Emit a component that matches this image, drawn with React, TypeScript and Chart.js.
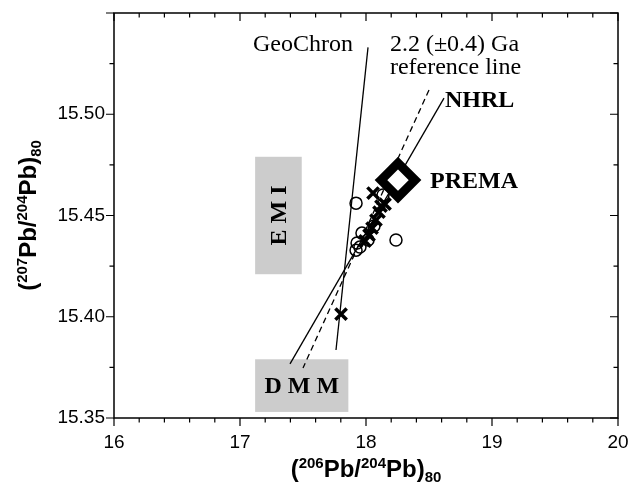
import { useEffect, useRef } from "react";
import { Chart, registerables } from "chart.js";

Chart.register(...registerables);

// ---- axis ticks ----
const xTicks = [16, 17, 18, 19, 20];
const xTickLabels = ["16", "17", "18", "19", "20"];
const yTicks = [15.35, 15.4, 15.45, 15.5, 15.55];
const yTickLabels = ["15.35", "15.40", "15.45", "15.50", ""];
const xMinorTicks = [16.2, 16.4, 16.6, 16.8, 17.2, 17.4, 17.6, 17.8, 18.2, 18.4, 18.6, 18.8, 19.2, 19.4, 19.6, 19.8];
const yMinorTicks = [15.375, 15.425, 15.475, 15.525];

// ---- data: open circles ----
const circleX = [17.921, 18.135, 17.968, 17.929, 17.921, 17.952, 18.016, 18.238, 18.063];
const circleY = [15.4561, 15.4601, 15.4413, 15.4364, 15.4329, 15.4344, 15.4379, 15.4379, 15.4448];

// ---- data: crosses ----
const crossX = [17.802, 18.056, 18.151, 18.103, 18.079, 18.048, 18.024, 17.992, 18.119];
const crossY = [15.4013, 15.4611, 15.4556, 15.4517, 15.4477, 15.4438, 15.4403, 15.4374, 15.4546];

// ---- PREMA ----
const premaX = [18.254];
const premaY = [15.4675];

// ---- reference lines ----
const geochronX = [18.016, 17.762];
const geochronY = [15.533, 15.3836];
const refLineX = [18.5, 17.5];
const refLineY = [15.512, 15.3747];
const nhrlX = [18.619, 17.397];
const nhrlY = [15.508, 15.3767];

// ---- reservoir boxes ----
const emiBoxX = [17.12, 17.49];
const emiBoxY = [15.421, 15.479];
const dmmBoxX = [17.12, 17.86];
const dmmBoxY = [15.353, 15.379];

// ---- annotations ----
const noteTexts = ["GeoChron", "2.2 (±0.4) Ga", "reference line", "NHRL", "PREMA", "E M I", "D M M"];
const noteX = [17.897, 18.19, 18.19, 18.627, 18.508, 17.305, 17.49];
const noteY = [15.5346, 15.5346, 15.5237, 15.507, 15.467, 15.45, 15.366];
const noteAlign = ["right", "left", "left", "left", "left", "center", "center"];
const noteBold = [false, false, false, true, true, true, true];
const noteRotated = [false, false, false, false, false, true, false];

const xTitle = [
  { t: "(", k: "n" }, { t: "206", k: "sup" }, { t: "Pb/", k: "n" },
  { t: "204", k: "sup" }, { t: "Pb)", k: "n" }, { t: "80", k: "sub" },
];
const yTitle = [
  { t: "(", k: "n" }, { t: "207", k: "sup" }, { t: "Pb/", k: "n" },
  { t: "204", k: "sup" }, { t: "Pb)", k: "n" }, { t: "80", k: "sub" },
];

const zip = (xs: number[], ys: number[]) => xs.map((x, i) => ({ x, y: ys[i] }));

function segFont(k: string) {
  return k === "n" ? "bold 24px 'Liberation Sans', Arial, sans-serif" : "bold 15px 'Liberation Sans', Arial, sans-serif";
}
function segDy(k: string) {
  return k === "sup" ? -9 : k === "sub" ? 5 : 0;
}

function drawRich(ctx: CanvasRenderingContext2D, segs: { t: string; k: string }[], cx: number, cy: number, rotated: boolean) {
  let total = 0;
  const widths: number[] = [];
  for (const s of segs) {
    ctx.font = segFont(s.k);
    const w = ctx.measureText(s.t).width;
    widths.push(w);
    total += w;
  }
  ctx.save();
  ctx.translate(cx, cy);
  if (rotated) ctx.rotate(-Math.PI / 2);
  ctx.fillStyle = "#000";
  ctx.textAlign = "left";
  ctx.textBaseline = "alphabetic";
  let pos = -total / 2;
  segs.forEach((s, i) => {
    ctx.font = segFont(s.k);
    ctx.fillText(s.t, pos, segDy(s.k));
    pos += widths[i];
  });
  ctx.restore();
}

const decorPlugin = {
  id: "decor",
  beforeDatasetsDraw(chart: any) {
    const { ctx, scales } = chart;
    const x = scales.x;
    const y = scales.y;
    ctx.save();
    ctx.fillStyle = "#cccccc";
    const boxes = [
      [emiBoxX, emiBoxY],
      [dmmBoxX, dmmBoxY],
    ];
    for (const [bx, by] of boxes) {
      const x0 = x.getPixelForValue(bx[0]);
      const x1 = x.getPixelForValue(bx[1]);
      const y0 = y.getPixelForValue(by[1]);
      const y1 = y.getPixelForValue(by[0]);
      ctx.fillRect(x0, y0, x1 - x0, y1 - y0);
    }
    ctx.restore();
  },
  afterDraw(chart: any) {
    const { ctx, scales, chartArea } = chart;
    const x = scales.x;
    const y = scales.y;
    const { left, right, top, bottom } = chartArea;
    ctx.save();
    ctx.strokeStyle = "#000";
    ctx.lineWidth = 1.5;
    ctx.strokeRect(left, top, right - left, bottom - top);
    ctx.lineWidth = 1.2;
    ctx.beginPath();
    const major = 8;
    const minor = 4.5;
    for (const v of xTicks) {
      const p = x.getPixelForValue(v);
      ctx.moveTo(p, bottom); ctx.lineTo(p, bottom + major);
      ctx.moveTo(p, top); ctx.lineTo(p, top + major);
    }
    for (const v of xMinorTicks) {
      const p = x.getPixelForValue(v);
      ctx.moveTo(p, bottom); ctx.lineTo(p, bottom + minor);
      ctx.moveTo(p, top); ctx.lineTo(p, top + minor);
    }
    for (const v of yTicks) {
      const p = y.getPixelForValue(v);
      ctx.moveTo(left, p); ctx.lineTo(left - major, p);
      ctx.moveTo(right, p); ctx.lineTo(right - major, p);
    }
    for (const v of yMinorTicks) {
      const p = y.getPixelForValue(v);
      ctx.moveTo(left, p); ctx.lineTo(left - minor, p);
      ctx.moveTo(right, p); ctx.lineTo(right - minor, p);
    }
    ctx.stroke();

    // annotations
    ctx.fillStyle = "#000";
    ctx.textBaseline = "middle";
    noteTexts.forEach((t, i) => {
      const px = x.getPixelForValue(noteX[i]);
      const py = y.getPixelForValue(noteY[i]);
      ctx.font = `${noteBold[i] ? "bold " : ""}24px 'Liberation Serif', 'Times New Roman', serif`;
      ctx.textAlign = noteAlign[i] as CanvasTextAlign;
      if (noteRotated[i]) {
        ctx.save();
        ctx.translate(px, py);
        ctx.rotate(-Math.PI / 2);
        ctx.fillText(t, 0, 1);
        ctx.restore();
      } else {
        ctx.fillText(t, px, py + 1);
      }
    });

    // axis titles
    drawRich(ctx, xTitle, (left + right) / 2, 477, false);
    drawRich(ctx, yTitle, 36, (top + bottom) / 2, true);
    ctx.restore();
  },
};

export default function App() {
  const ref = useRef<HTMLCanvasElement | null>(null);
  useEffect(() => {
    document.body.style.margin = "0";
    if (!ref.current) return;
    const tickFont = { family: "'Liberation Sans', Arial, sans-serif", size: 19 };
    const chart = new Chart(ref.current, {
      type: "scatter",
      data: {
        datasets: [
          {
            label: "PREMA",
            data: zip(premaX, premaY),
            pointStyle: "rectRot",
            pointRadius: 17,
            borderWidth: 9,
            borderColor: "#000",
            backgroundColor: "#fff",
          },
          {
            label: "crosses",
            data: zip(crossX, crossY),
            pointStyle: "crossRot",
            pointRadius: 8,
            borderWidth: 3.5,
            borderColor: "#000",
            backgroundColor: "#000",
          },
          {
            label: "circles",
            data: zip(circleX, circleY),
            pointStyle: "circle",
            pointRadius: 6,
            borderWidth: 1.5,
            borderColor: "#000",
            backgroundColor: "rgba(0,0,0,0)",
          },
          {
            label: "GeoChron",
            data: zip(geochronX, geochronY),
            showLine: true,
            pointRadius: 0,
            borderWidth: 1.3,
            borderColor: "#000",
          },
          {
            label: "reference",
            data: zip(refLineX, refLineY),
            showLine: true,
            pointRadius: 0,
            borderWidth: 1.3,
            borderColor: "#000",
            borderDash: [6, 4],
          },
          {
            label: "NHRL",
            data: zip(nhrlX, nhrlY),
            showLine: true,
            pointRadius: 0,
            borderWidth: 1.3,
            borderColor: "#000",
          },
        ],
      },
      options: {
        animation: false,
        responsive: false,
        devicePixelRatio: 1,
        events: [],
        layout: { autoPadding: false, padding: { top: 13, right: 12, left: 0, bottom: 0 } },
        plugins: { legend: { display: false }, tooltip: { enabled: false } },
        scales: {
          x: {
            type: "linear",
            min: 16,
            max: 20,
            grid: { display: false, drawTicks: true, tickLength: 13 },
            border: { display: false },
            afterBuildTicks: (s: any) => { s.ticks = xTicks.map((v) => ({ value: v })); },
            afterFit: (s: any) => { s.height = 76; },
            ticks: {
              autoSkip: false,
              maxRotation: 0,
              padding: 0,
              color: "#000",
              font: tickFont,
              callback: (_v: any, i: number) => xTickLabels[i],
            },
          },
          y: {
            type: "linear",
            min: 15.35,
            max: 15.55,
            grid: { display: false, drawTicks: true, tickLength: 9 },
            border: { display: false },
            afterBuildTicks: (s: any) => { s.ticks = yTicks.map((v) => ({ value: v })); },
            afterFit: (s: any) => { s.width = 114; },
            ticks: {
              autoSkip: false,
              padding: 0,
              color: "#000",
              font: tickFont,
              callback: (_v: any, i: number) => yTickLabels[i],
            },
          },
        },
      },
      plugins: [decorPlugin],
    } as any);
    return () => chart.destroy();
  }, []);
  return (
    <div style={{ position: "absolute", left: 0, top: 0, width: 630, height: 494 }}>
      <canvas ref={ref} width={630} height={494} />
    </div>
  );
}
